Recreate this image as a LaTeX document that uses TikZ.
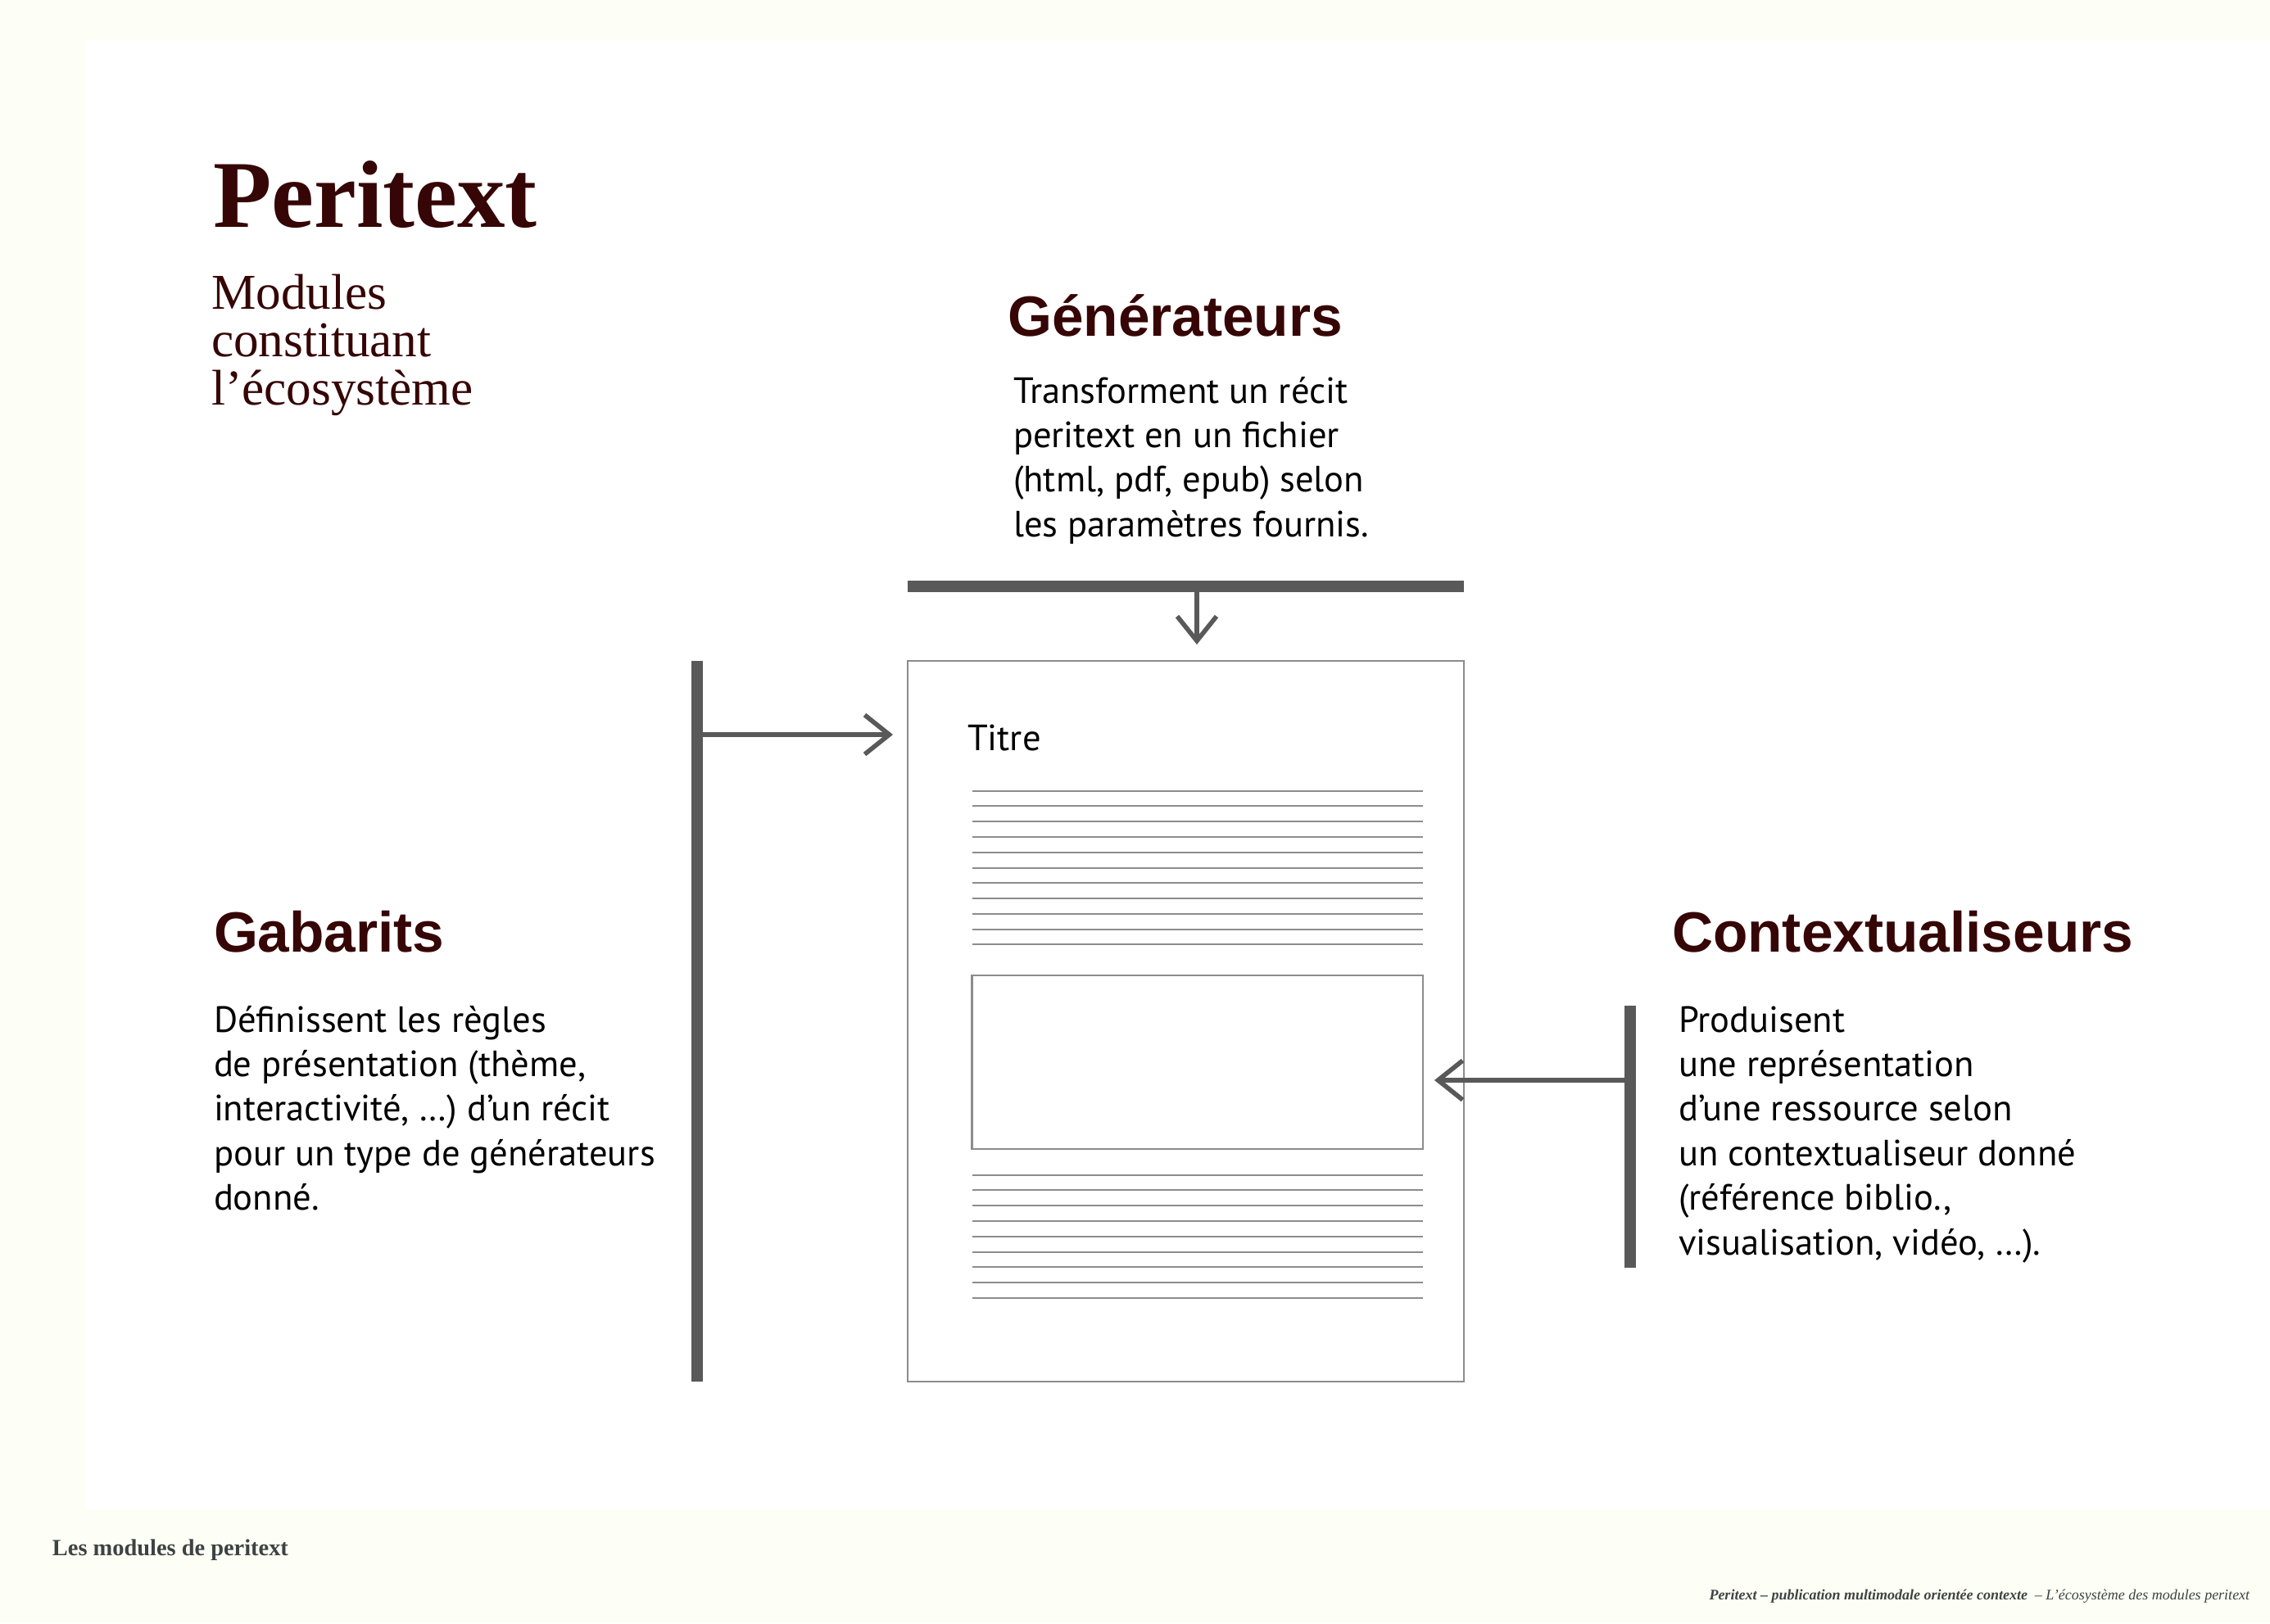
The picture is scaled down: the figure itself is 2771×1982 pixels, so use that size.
\documentclass[tikz,border=0pt]{standalone}
\usepackage{fontspec}
\setmainfont{Liberation Serif}
\newfontfamily\headfont{Liberation Sans}
\newfontfamily\bodyfont{PT Sans}
\usetikzlibrary{arrows.meta,fit}
\definecolor{pmaroon}{HTML}{360505}
\definecolor{cream}{HTML}{FDFEF5}
\definecolor{barcol}{HTML}{595959}
\definecolor{docgray}{HTML}{8C8C8C}
\definecolor{footgray}{HTML}{3D4343}
\begin{document}
\begin{tikzpicture}[x=0.25pt,y=-0.25pt,
  txt/.style={anchor=base west, inner sep=0pt, outer sep=0pt},
  heading/.style={txt, text=pmaroon, font=\headfont\bfseries\fontsize{17.35}{20}\selectfont},
  body/.style={txt, text=black, font=\bodyfont\fontsize{11.15}{13.6}\selectfont},
  bar/.style={fill=barcol, draw=none, inner sep=0pt, outer sep=0pt},
  docbox/.style={draw=docgray, line width=0.6pt, inner sep=0pt, outer sep=0pt},
  docline/.style={draw=docgray, line width=0.5pt},
  arr/.style={draw=barcol, line width=1.4pt, -{Straight Barb[length=7.5pt,width=12pt]}}
]
\fill[cream] (0,0) rectangle (2771,1982);
\fill[white] (104,48) rectangle (2771,1843);
\useasboundingbox (0,0) rectangle (2771,1982);

% title block
\node[txt, text=pmaroon, font=\bfseries\fontsize{29.2}{34}\selectfont] (title) at (260,277) {Peritext};
\node[txt, text=pmaroon, font=\fontsize{15.3}{14.5}\selectfont] (subtitle) at (258,377)
  {\begin{tabular}[t]{@{}l@{}}Modules\\constituant\\l’écosystème\end{tabular}};

% headings
\node[heading] (genh) at (1230,410) {Générateurs};
\node[heading] (gabh) at (261,1162) {Gabarits};
\node[heading] (ctxh) at (2041,1162) {Contextualiseurs};

% bodies
\node[body] (genb) at (1237,492)
  {\begin{tabular}[t]{@{}l@{}}Transforment un récit\\peritext en un fichier\\(html, pdf, epub) selon\\les paramètres fournis.\end{tabular}};
\node[body] (gabb) at (261,1260)
  {\begin{tabular}[t]{@{}l@{}}Définissent les règles\\de présentation (thème,\\interactivité, …) d’un récit\\pour un type de générateurs\\donné.\end{tabular}};
\node[body] (ctxb) at (2049,1260)
  {\begin{tabular}[t]{@{}l@{}}Produisent\\une représentation\\d’une ressource selon\\un contextualiseur donné\\(référence biblio.,\\visualisation, vidéo, …).\end{tabular}};

% document
\node[docbox, fit={(1108,807) (1787,1687)}] (doc) {};
\node[txt, font=\bodyfont\fontsize{11.15}{13}\selectfont] (titre) at (1181,916) {Titre};
\foreach \i in {0,...,10}
  \draw[docline] ({1186.5},{965.7+18.76*\i}) -- ({1737},{965.7+18.76*\i});
\node[docbox, fit={(1186.5,1191) (1737,1403)}] (media) {};
\foreach \i in {0,...,8}
  \draw[docline] ({1186.5},{1434.7+18.76*\i}) -- ({1737},{1434.7+18.76*\i});

% bars
\node[bar, fit={(1108,709) (1787,723)}] (genbar) {};
\node[bar, fit={(844,807) (858,1687)}] (gabbar) {};
\node[bar, fit={(1983,1228) (1997,1548)}] (ctxbar) {};

% arrows
\coordinate (gentip) at (1461,787);
\coordinate (gabtip) at (1090,897);
\coordinate (ctxtip) at (1751,1319);
\draw[arr] (gentip |- genbar.south) -- (gentip);
\draw[arr] (gabbar.east |- gabtip) -- (gabtip);
\draw[arr] (ctxbar.west |- ctxtip) -- (ctxtip);

% footers
\node[txt, text=footgray, font=\bfseries\fontsize{7.1}{8}\selectfont] (footl) at (64,1899) {Les modules de peritext};
\node[anchor=base east, inner sep=0pt, text=footgray, font=\itshape\fontsize{4.5}{5}\selectfont] (footr) at (2747,1953)
  {\textbf{Peritext – publication multimodale orientée contexte}\ \ – L'écosystème des modules peritext};
\end{tikzpicture}
\end{document}
